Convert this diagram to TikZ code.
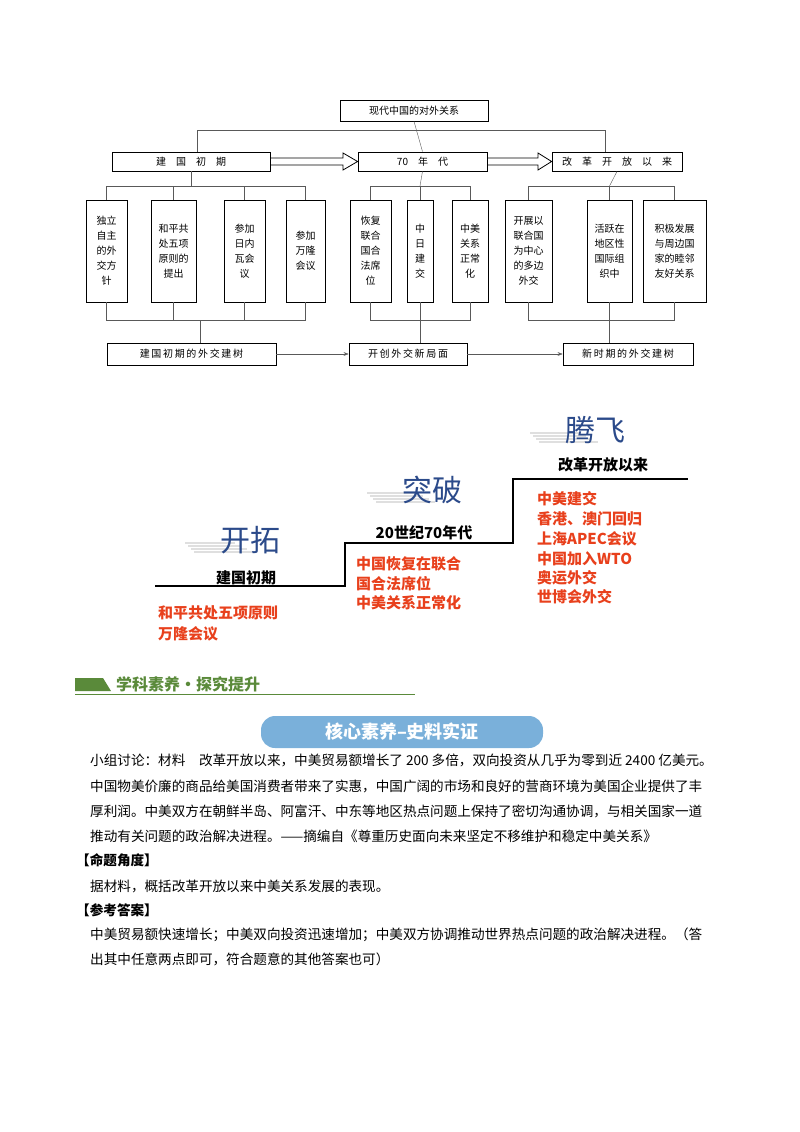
\documentclass[tikz,border=0pt]{standalone}
\usepackage{fontspec}
\setmainfont{Noto Sans CJK SC}
\usetikzlibrary{arrows.meta}
\definecolor{redt}{HTML}{E8401C}
\definecolor{navy}{HTML}{2B4A8A}
\definecolor{grn}{HTML}{5A8A3A}
\definecolor{pill}{HTML}{7AB0DA}
\begin{document}
\begin{tikzpicture}[x=1pt,y=-1pt,
  bx/.style={draw,thick,inner sep=0pt,font=\fontsize{10}{10}\selectfont},
  vb/.style={draw,thick,inner sep=0pt,font=\fontsize{10}{15}\selectfont,align=center},
  ln/.style={thin,gray!70!black},
  red/.style={anchor=west,text=redt,font=\fontsize{15}{15}\selectfont\bfseries,inner sep=0pt},
  big/.style={font=\fontsize{30}{30}\selectfont,inner sep=0pt},
  body/.style={anchor=west,inner sep=0pt,font=\fontsize{13.6}{13.6}\selectfont}]
\useasboundingbox (0,0) rectangle (800,1132);
% top diagram
\node[bx,minimum width=148,minimum height=21] (top) at (414,110.5) {现代中国的对外关系};
\node[bx,minimum width=158,minimum height=19] (a) at (191,161.5) {建\quad 国\quad 初\quad 期};
\node[bx,minimum width=129,minimum height=19] (b) at (422.5,161.5) {70\quad 年\quad 代};
\node[bx,minimum width=130,minimum height=19] (c) at (617,161.5) {改\quad 革\quad 开\quad 放\quad 以\quad 来};
\draw[ln] (top.south) -- (b.north);
\draw[ln] (a.north-|197,0) -- (197,130) -- (605,130) -- (c.north-|605,0);
\draw[thick] (a.east|-0,158) -- (343,158) -- (343,153) -- (b.west) -- (343,170) -- (343,165) -- (a.east|-0,165);
\draw[thick] (b.east|-0,158) -- (538,158) -- (538,153) -- (c.west) -- (538,170) -- (538,165) -- (b.east|-0,165);
% children
\foreach \n/\x/\w/\t in {c1/106.5/41/{独立\\自主\\的外\\交方\\针},c2/173.5/45/{和平共\\处五项\\原则的\\提出},c3/244.5/41/{参加\\日内\\瓦会\\议},c4/305.5/39/{参加\\万隆\\会议},
 c5/370.5/41/{恢复\\联合\\国合\\法席\\位},c6/420/26/{中\\日\\建\\交},c7/470/36/{中美\\关系\\正常\\化},
 c8/528.5/47/{开展以\\联合国\\为中心\\的多边\\外交},c9/609.5/45/{活跃在\\地区性\\国际组\\织中},c10/674.5/63/{积极发展\\与周边国\\家的睦邻\\友好关系}}
  \node[vb,minimum width=\w,minimum height=102] (\n) at (\x,251) {\t};
\draw[ln] (a.south) -- (191,186);
\draw[ln] (c1.north) |- (c4.north|-0,186) -- (c4.north);
\draw[ln] (c2.north) -- (c2.north|-0,186); \draw[ln] (c3.north) -- (c3.north|-0,186);
\draw[ln] (b.south) -- (420,186);
\draw[ln] (c5.north) |- (c7.north|-0,186) -- (c7.north);
\draw[ln] (c6.north) -- (420,186);
\draw[ln] (c.south) -- (609.5,186);
\draw[ln] (c8.north) |- (c10.north|-0,186) -- (c10.north);
\draw[ln] (c9.north) -- (609.5,186);
% bottom
\node[bx,minimum width=169,minimum height=22] (d) at (191.5,354) {建\,国\,初\,期\,的\,外\,交\,建\,树};
\node[bx,minimum width=118,minimum height=22] (e) at (408,354) {开\,创\,外\,交\,新\,局\,面};
\node[bx,minimum width=130,minimum height=22] (f) at (628,354) {新\,时\,期\,的\,外\,交\,建\,树};
\draw[ln] (c1.south) |- (c4.south|-0,320) -- (c4.south);
\draw[ln] (c2.south) -- (c2.south|-0,320); \draw[ln] (c3.south) -- (c3.south|-0,320);
\draw[ln] (200,320) -- (d.north-|200,0);
\draw[ln] (c5.south) |- (c7.south|-0,320) -- (c7.south);
\draw[ln] (c6.south) -- (e.north-|420,0);
\draw[ln] (c8.south) |- (c10.south|-0,320) -- (c10.south);
\draw[ln] (c9.south) -- (f.north-|609.5,0);
\draw[-{Stealth[length=5pt]},ln] (d) -- (e);
\draw[-{Stealth[length=5pt]},ln] (e) -- (f);
% staircase
\coordinate (s0) at (155,586); \coordinate (s1) at (345,586); \coordinate (s2) at (345,543);
\coordinate (s3) at (513,543); \coordinate (s4) at (513,479); \coordinate (s5) at (688,479);
\draw[line width=2.6pt] (s0) -- (s1) -- (s2) -- (s3) -- (s4) -- (s5);
\foreach \n/\x/\y in {k1/250/540,k2/432/490,k3/595/430}{
  \foreach \d in {0,3,6,9} \fill[gray!35,opacity=0.7] (\x-65+\d,\y+2+\d) rectangle (\x-15+\d*2,\y+3.5+\d);}
\node[big,text=navy] (k1) at (250,540) {开拓};
\node[big,text=navy] (k2) at (432,490) {突破};
\node[big,text=navy] (k3) at (595,430) {腾飞};
\node[font=\fontsize{15}{15}\selectfont\bfseries,inner sep=0pt] (p1) at (246,578) {建国初期};
\node[font=\fontsize{15}{15}\selectfont\bfseries,inner sep=0pt] (p2) at (424,533) {20世纪70年代};
\node[font=\fontsize{15}{15}\selectfont\bfseries,inner sep=0pt] (p3) at (603,465) {改革开放以来};
\node[red] (r1) at (158,613) {和平共处五项原则};
\node[red] (r2) at (158,634) {万隆会议};
\node[red] (r3) at (356,564) {中国恢复在联合};
\node[red] (r4) at (356,584) {国合法席位};
\node[red] (r5) at (356,603) {中美关系正常化};
\foreach \i/\y/\t in {6/499/中美建交,7/519/香港、澳门回归,8/539/上海APEC会议,9/559/中国加入WTO,10/578/奥运外交,11/597/世博会外交}
  \node[red] (r\i) at (537,\y) {\t};
% section header
\fill[grn] (75,678) -- (103,678) -- (111,691) -- (75,691) -- cycle;
\node[anchor=west,text=grn,font=\fontsize{16}{16}\selectfont\bfseries,inner sep=0pt] (h) at (116,684) {学科素养·探究提升};
\draw[grn,thick] (75,694) -- (415,694);
\node[fill=pill,rounded corners=14pt,minimum width=282,minimum height=32,text=white,font=\fontsize{18}{18}\selectfont\bfseries] (pl) at (402,732) {核心素养–史料实证};
% body
\node[body] (t1) at (90,760) {小组讨论：材料\quad 改革开放以来，中美贸易额增长了 200 多倍，双向投资从几乎为零到近 2400 亿美元。};
\node[body] (t2) at (90,786) {中国物美价廉的商品给美国消费者带来了实惠，中国广阔的市场和良好的营商环境为美国企业提供了丰};
\node[body] (t3) at (90,811) {厚利润。中美双方在朝鲜半岛、阿富汗、中东等地区热点问题上保持了密切沟通协调，与相关国家一道};
\node[body] (t4) at (90,836) {推动有关问题的政治解决进程。——摘编自《尊重历史面向未来坚定不移维护和稳定中美关系》};
\node[body,font=\fontsize{13.6}{13.6}\selectfont\bfseries] (t5) at (76,860) {【命题角度】};
\node[body] (t6) at (90,886) {据材料，概括改革开放以来中美关系发展的表现。};
\node[body,font=\fontsize{13.6}{13.6}\selectfont\bfseries] (t7) at (76,910) {【参考答案】};
\node[body] (t8) at (90,935) {中美贸易额快速增长；中美双向投资迅速增加；中美双方协调推动世界热点问题的政治解决进程。（答};
\node[body] (t9) at (90,959) {出其中任意两点即可，符合题意的其他答案也可）};
\end{tikzpicture}
\end{document}
